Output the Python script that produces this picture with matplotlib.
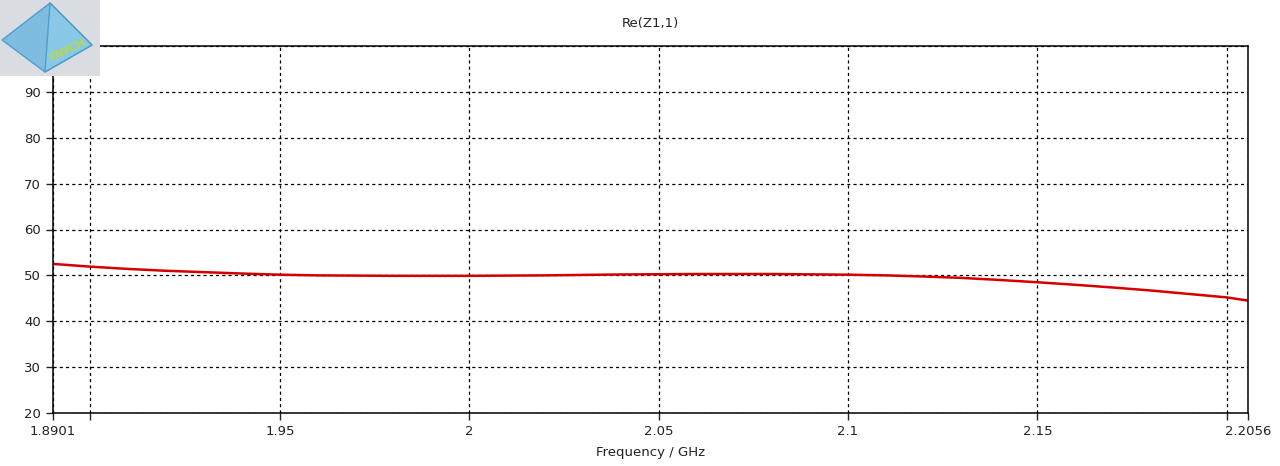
import matplotlib
matplotlib.use("Agg")
import matplotlib.pyplot as plt
from matplotlib.patches import Rectangle, Polygon

# values
freq_ghz = [1.8901, 1.90, 1.91, 1.92, 1.93, 1.94, 1.95, 1.96, 1.98, 2.00,
            2.02, 2.04, 2.06, 2.08, 2.10, 2.11, 2.12, 2.13, 2.14, 2.15,
            2.16, 2.17, 2.18, 2.19, 2.20, 2.2056]
re_z11 = [52.5, 51.9, 51.4, 51.0, 50.7, 50.4, 50.15, 50.0, 49.9, 49.9,
          50.0, 50.2, 50.3, 50.3, 50.15, 50.0, 49.75, 49.45, 49.0, 48.5,
          47.95, 47.35, 46.7, 45.95, 45.2, 44.5]

x_ticks = [1.8901, 1.9, 1.95, 2.0, 2.05, 2.1, 2.15, 2.2, 2.2056]
x_labels = ["1.8901", "", "1.95", "2", "2.05", "2.1", "2.15", "", "2.2056"]
y_ticks = [20, 30, 40, 50, 60, 70, 80, 90, 100]

plt.rcParams['font.family'] = ['DejaVu Sans']

fig = plt.figure(figsize=(12.8, 4.66), dpi=100)
ax = fig.add_axes([53 / 1280, 1 - 413 / 466, (1248 - 53) / 1280, (413 - 46) / 466])

ax.plot(freq_ghz, re_z11, color='#d40000', linewidth=1.8)

ax.set_xlim(x_ticks[0], x_ticks[-1])
ax.set_ylim(20, 100)
ax.set_xticks(x_ticks)
ax.set_xticklabels(x_labels)
ax.set_yticks(y_ticks)
ax.tick_params(direction='out', length=5, width=1, labelsize=9.5, colors='#222222')
ax.grid(True, color='black', linestyle=(0, (2.5, 2.5)), linewidth=0.9)
for sp in ax.spines.values():
    sp.set_linewidth(1.1)
    sp.set_color('black')

ax.set_title("Re(Z1,1)", fontsize=9.5, pad=14, color='#222222')
ax.set_xlabel("Frequency / GHz", fontsize=9.5, labelpad=6, color='#222222')

# rough stand-in for the watermark logo in the corner
logo = fig.add_axes([0, 1 - 76 / 466, 100 / 1280, 76 / 466])
logo.set_xlim(0, 100)
logo.set_ylim(76, 0)
logo.axis('off')
logo.add_patch(Rectangle((0, 0), 100, 76, color='#d9dde2'))
logo.add_patch(Polygon([[50, 3], [2, 40], [45, 72], [92, 45]], closed=True,
                       facecolor='#6fb8e0', edgecolor='#3f95c8', alpha=0.85))
logo.add_patch(Polygon([[50, 3], [45, 72], [92, 45]], closed=True,
                       facecolor='#8ecbea', edgecolor='#3f95c8', alpha=0.8))
logo.text(68, 50, "OWCH", color='#b8d84a', fontsize=8, rotation=25,
          ha='center', va='center', fontweight='bold')

fig.savefig("out.png", dpi=100)
